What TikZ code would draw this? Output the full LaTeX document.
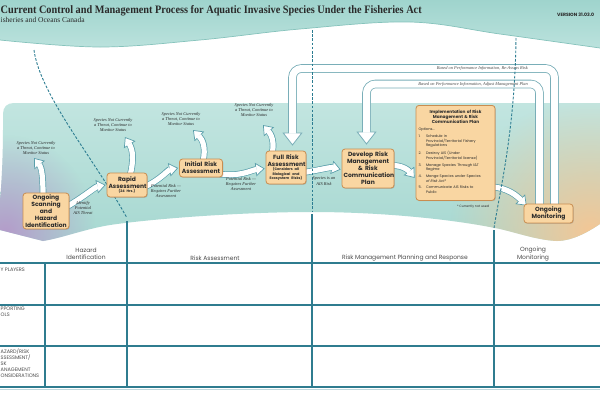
\documentclass[tikz,border=0pt]{standalone}
\usepackage{fontspec}
\usepackage{graphicx}
\setmainfont{Liberation Serif}
\newfontfamily\gsans{Poppins}
\usetikzlibrary{arrows.meta,shadows,fadings}
\pgfdeclarelayer{bg}
\pgfdeclarelayer{arr}
\pgfsetlayers{bg,arr,main}
\definecolor{hdrtop}{HTML}{9FD4CD}
\definecolor{hdrbot}{HTML}{BBE2DD}
\definecolor{hdredge}{HTML}{86C3BC}
\definecolor{bandtop}{HTML}{C2E5E0}
\definecolor{bandmid}{HTML}{E9F5F3}
\definecolor{bandbot}{HTML}{A7D8D1}
\definecolor{lilac}{HTML}{B49CCA}
\definecolor{peach}{HTML}{F3C796}
\definecolor{boxfill}{HTML}{F9D6A2}
\definecolor{boxline}{HTML}{C98D50}
\definecolor{arrline}{HTML}{5A9FAB}
\definecolor{loopc}{HTML}{79AEB8}
\definecolor{tabline}{HTML}{2F7C8F}
\definecolor{dashc}{HTML}{2B7C91}
\definecolor{txt}{HTML}{2A2A2A}
\tikzfading[name=softdot, inner color=transparent!0, outer color=transparent!100]
\newcommand\sm{\fontsize{3.5}{4.2}\selectfont}
\newcommand\aisitem[2]{\noindent\makebox[7.5pt][l]{#1}\parbox[t]{66pt}{#2}\par\vspace{2.6pt}}
\tikzset{
  stepbox/.style={draw=boxline, fill=boxfill, line width=0.8pt, rounded corners=3pt,
    align=center, inner sep=1.5pt, text=txt,
    font=\gsans\bfseries\fontsize{6}{7}\selectfont,
    drop shadow={opacity=0.35, shadow xshift=0.8pt, shadow yshift=-0.8pt}},
  notetxt/.style={font=\itshape\fontsize{4.4}{5.3}\selectfont, text=txt, align=center, inner sep=0pt},
  looplab/.style={font=\itshape\fontsize{4.4}{5.3}\selectfont, text=txt!85, inner sep=0pt},
  tablab/.style={font=\gsans\fontsize{6}{7.5}\selectfont, text=txt!85, align=center, inner sep=0pt},
  rowlab/.style={font=\gsans\fontsize{5}{6}\selectfont, text=txt!85, align=left, inner sep=0pt, anchor=north west},
  tabrule/.style={draw=tabline, line width=1.2pt},
  divider/.style={draw=dashc, line width=0.9pt, dash pattern=on 2.6pt off 1.6pt},
  flowout/.style={line width=6.6pt, draw=arrline, -{Triangle[width=13.5pt,length=9pt,fill=white,line width=0.7pt]}},
  flowin/.style={line width=5.2pt, draw=white, shorten >=8pt},
  loopout/.style={line width=8.6pt, draw=loopc, rounded corners=9pt, -{Triangle[width=20pt,length=13pt,fill=white,line width=0.8pt]}},
  loopin/.style={line width=7pt, draw=white, rounded corners=9pt, shorten >=12pt},
}
\newcommand\flowarrow[1]{\draw[flowout] #1; \draw[flowin] #1;}
\newcommand\looparrow[1]{\draw[loopout] #1; \draw[loopin] #1;}
\def\bandpath{(3,114) .. controls (3,107) and (7,103) .. (14,103) -- (600,103) -- (600,224)
  .. controls (588,232) and (572,241) .. (557,241) .. controls (535,240) and (512,231) .. (495,228)
  .. controls (450,219) and (380,212) .. (312,212) .. controls (240,212) and (150,219) .. (110,225)
  .. controls (85,229) and (62,238) .. (43,241) -- (0,230) -- (0,200) .. controls (2,180) and (3,150) .. (3,130) -- cycle}
\begin{document}
\begin{tikzpicture}[x=1pt,y=-1pt]
\useasboundingbox (0,0) rectangle (600,400);
\begin{pgfonlayer}{bg}
  \fill[white] (0,0) rectangle (600,400);
  \shade[top color=hdrtop, bottom color=hdrbot] (0,0) -- (600,0) -- plot[smooth, tension=0.6] coordinates {(600,48) (500,34) (410,22) (300,29) (200,40) (100,47) (0,40)} -- cycle;
  \draw[hdredge, line width=0.7pt] plot[smooth, tension=0.6] coordinates {(600,48) (500,34) (410,22) (300,29) (200,40) (100,47) (0,40)};
  \shade[top color=bandtop, middle color=bandmid, bottom color=bandbot] \bandpath;
  \begin{scope}
    \clip \bandpath;
    \fill[lilac, path fading=softdot] (-85,135) rectangle (95,330);
    \fill[peach, path fading=softdot] (450,100) rectangle (730,360);
  \end{scope}
\end{pgfonlayer}

% title block
\node[anchor=base west, inner sep=0pt, text=txt] (title) at (0.5,13) {\resizebox{421pt}{8pt}{\bfseries Current Control and Management Process for Aquatic Invasive Species Under the Fisheries Act}};
\node[anchor=base west, inner sep=0pt, text=txt, font=\fontsize{7.5}{9}\selectfont] (sub) at (0.5,22.5) {isheries and Oceans Canada};
\node[anchor=base west, inner sep=0pt, text=txt, font=\gsans\bfseries\fontsize{4.6}{5.5}\selectfont] (ver) at (557,16) {VERSION 31.03.0};

% process boxes
\node[stepbox, text width=43pt, minimum height=32pt] (m1) at (46,211) {Ongoing\\Scanning and\\Hazard\\Identification};
\node[stepbox, text width=37pt, minimum height=24pt] (m2) at (127,185) {Rapid\\Assessment\\{\sm (24 Hrs.)\par}};
\node[stepbox, text width=40pt, minimum height=18pt] (m3) at (201,168) {Initial Risk\\Assessment};
\node[stepbox, text width=37pt, minimum height=33pt] (m4) at (286,167.5) {Full Risk\\Assessment\\{\sm (Considers all\\Biological and\\Ecosystem Risks)\par}};
\node[stepbox, text width=49pt, minimum height=39pt] (m5) at (368,168.5) {Develop Risk\\Management\\\& Risk\\Communication\\Plan};
\node[stepbox, anchor=north, text width=74pt, minimum height=95pt, align=left, inner sep=2.5pt,
      font=\gsans\fontsize{3.6}{4.5}\selectfont] (m6) at (455.5,105) {%
  {\centering\bfseries\fontsize{4.3}{4.9}\selectfont Implementation of Risk\\Management \& Risk\\Communication Plan\par}
  \vspace{3pt}
  \noindent Options...\par\vspace{2.4pt}
  \aisitem{1.}{Schedule in\\Provincial/Territorial Fishery\\Regulations}
  \aisitem{2.}{Destroy AIS (Under\\Provincial/Territorial license)}
  \aisitem{3.}{Manage Species Through I\&T\\Regime}
  \aisitem{4.}{Mange Species under Species\\{\itshape of Risk Act}*}
  \aisitem{5.}{Communicate AIS Risks to\\Public}};
\node[stepbox, text width=46pt, minimum height=19pt] (m7) at (548.5,213.5) {Ongoing\\Monitoring};
\node[inner sep=0pt, text=txt, font=\gsans\fontsize{3.2}{4}\selectfont] (foot) at (473,207) {* Currently not used};

% annotations
\node[notetxt] (n1) at (36,148) {Species Not Currently\\a Threat, Continue to\\Monitor Status};
\node[notetxt] (n2) at (113,125) {Species Not Currently\\a Threat, Continue to\\Monitor Status};
\node[notetxt] (n3) at (181,119) {Species Not Currently\\a Threat, Continue to\\Monitor Status};
\node[notetxt] (n4) at (254,110) {Species Not Currently\\a Threat, Continue to\\Monitor Status};
\node[notetxt] (l1) at (83,208) {Identify\\Potential\\AIS Threat};
\node[notetxt] (l2) at (166,191) {Potential Risk ---\\Requires Further\\Assessment};
\node[notetxt] (l3) at (241,184) {Potential Risk ---\\Requires Further\\Assessment};
\node[notetxt] (l4) at (324,181) {Species is an\\AIS Risk};

% loop coordinates
\coordinate (oc1) at (554.5,68.5);
\coordinate (oc2) at (292.5,68.5);
\coordinate (ic1) at (539.5,84);
\coordinate (ic2) at (366.5,84);

\begin{pgfonlayer}{arr}
  \looparrow{([xshift=6pt,yshift=-3pt]m7.north) -- (oc1) -- (oc2) -- ([xshift=6.5pt,yshift=5pt]m4.north)}
  \looparrow{([xshift=-9pt,yshift=-3pt]m7.north) -- (ic1) -- (ic2) -- ([xshift=-1.5pt,yshift=4pt]m5.north)}
  \flowarrow{([xshift=-3pt,yshift=-3pt]m1.north) .. controls (43,178) and (42,168) .. ([xshift=-2pt,yshift=-3pt]n1.south)}
  \flowarrow{([xshift=3pt,yshift=-3pt]m2.north) .. controls (134,160) and (133,150) .. ([xshift=12pt,yshift=-5pt]n2.south)}
  \flowarrow{([xshift=2pt,yshift=-3pt]m3.north) .. controls (206,148) and (203,140) .. ([xshift=12pt,yshift=-4pt]n3.south)}
  \flowarrow{([xshift=-14pt,yshift=-3pt]m4.north) .. controls (275,142) and (271,134) .. ([xshift=9pt,yshift=-8pt]n4.south)}
  \flowarrow{([xshift=-3pt,yshift=4pt]m1.east) .. controls (85,196) and (95,187) .. ([xshift=-1pt]m2.west)}
  \flowarrow{([xshift=-3pt,yshift=-2pt]m2.east) .. controls (160,180) and (168,170) .. ([xshift=-1pt]m3.west)}
  \flowarrow{([xshift=-3pt,yshift=-6pt]m3.east) .. controls (240,177) and (252,170) .. ([xshift=-1pt,yshift=-1pt]m4.west)}
  \flowarrow{([xshift=-3pt,yshift=-5pt]m4.east) .. controls (320,170) and (330,167) .. ([xshift=-1pt,yshift=-1pt]m5.west)}
  \flowarrow{([xshift=-3pt,yshift=3pt]m5.east) .. controls (403,165) and (409,171) .. ([xshift=-1pt,yshift=-25pt]m6.west)}
  \flowarrow{([xshift=-3pt,yshift=-34pt]m6.east) .. controls (508,188) and (517,196) .. ([xshift=3pt,yshift=-2pt]m7.north west)}
  % phase dividers
  \draw[divider] (34,50) .. controls (40,95) and (95,160) .. (127,218);
  \draw[divider] (312,30) -- (312,212);
  \draw[divider] (516,38) .. controls (515,130) and (500,190) .. (494,228);
\end{pgfonlayer}

\node[looplab, anchor=east] (t1) at (528,68.8) {Based on Performance Information, Re-Assess Risk};
\node[looplab, anchor=east] (t2) at (528,84.3) {Based on Performance Information, Adjust Management Plan};

% table
\draw[tabrule] (127,221) -- (127,387);
\draw[tabrule] (312,214) -- (312,387);
\draw[tabrule] (494,230) -- (494,387);
\draw[tabrule] (45,263) -- (45,387);
\foreach \yy in {263,305,346,387} \draw[tabrule] (0,\yy) -- (600,\yy);
\draw[tabline!30, line width=1pt] (0,389.5) -- (600,389.5);

\node[tablab] (h1) at (86,254) {Hazard\\Identification};
\node[tablab] (h2) at (215,258) {Risk Assessment};
\node[tablab] (h3) at (405,258) {Risk Management Planning and Response};
\node[tablab] (h4) at (533,254) {Ongoing\\Monitoring};

\node[rowlab] (r1) at (0.5,268.2) {Y PLAYERS};
\node[rowlab] (r2) at (0.5,306.5) {PPORTING\\OLS};
\node[rowlab] (r3) at (0.5,348.5) {AZARD/RISK\\SSESSMENT/\\SK\\ANAGEMENT\\ONSIDERATIONS};
\end{tikzpicture}
\end{document}
